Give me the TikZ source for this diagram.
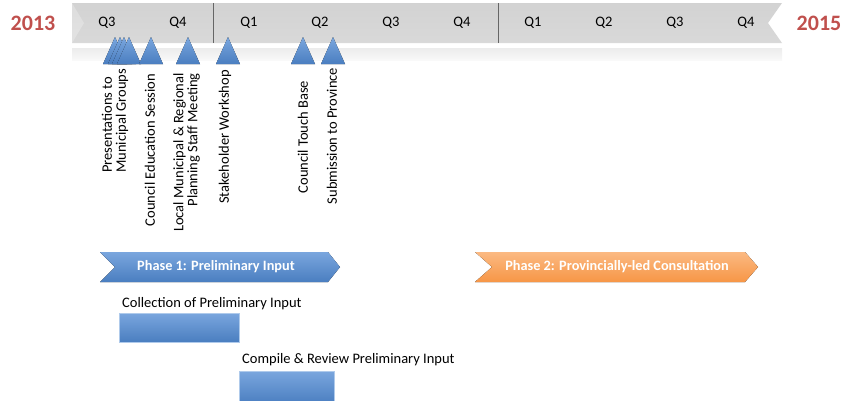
\documentclass[tikz,border=0pt]{standalone}
\usepackage{fontspec}
\setmainfont{Carlito}
\definecolor{yearred}{HTML}{C0504D}
\definecolor{blueTop}{HTML}{7AA6DE}
\definecolor{blueBot}{HTML}{4A7EC0}
\definecolor{orangeTop}{HTML}{FBB982}
\definecolor{orangeBot}{HTML}{F79646}
\tikzset{
  year/.style={font=\fontsize{22}{24}\selectfont\bfseries, text=yearred},
  quarter/.style={font=\fontsize{14.5}{15}\selectfont},
  event/.style={rotate=90, inner sep=0pt, font=\fontsize{14.5}{14}\selectfont},
  milestone/.style={top color=blueTop, bottom color=blueBot},
  phasetext/.style={text=white, font=\fontsize{14.3}{15}\selectfont\bfseries},
  tasktext/.style={anchor=west, inner sep=0pt, font=\fontsize{14.5}{15}\selectfont},
  taskbar/.style={top color=blueTop, bottom color=blueBot, draw=blueTop!60!white, line width=0.4pt}
}
\begin{document}
\begin{tikzpicture}[x=1pt,y=-1pt]
	\useasboundingbox (0,0) rectangle (847,400);
	\clip (0,0) rectangle (847,400);
	% time bar
	\shade [top color=gray!35, middle color=gray!3, bottom color=gray!30] (72,3) -- (782,3) -- (768,23) -- (782,43) -- (72,43) -- cycle;
	\fill [white,opacity=0.25] (72,3) -- (84,23) -- (72,43) -- cycle;
	\shade [top color=gray!15, bottom color=gray!5] (72,48) rectangle (782,60);
	\draw [gray!80!black] (213,3) -- (213,43) (498,3) -- (498,43);
	\node [year] (y2013) at (33,23) {2013};
	\node [year] (y2015) at (819,23) {2015};
	\foreach \q [count=\i] in {Q3,Q4,Q1,Q2,Q3,Q4,Q1,Q2,Q3,Q4}
		\node [quarter] (q\i) at ({36+71*\i},23) {\q};
	% milestones
	\foreach \x in {115,120,124,129,151,188,228,303,333}
		\fill [milestone] ({\x-12},64) -- (\x,37) -- ({\x+12},64) -- cycle;
	\node [event, anchor=west, align=left] (pres) at (115,173) {Presentations to\\Municipal Groups};
	\node [event] (ces) at (150,150) {Council Education Session};
	\node [event, anchor=east, align=right] (lmr) at (186.5,73) {Local Municipal \& Regional\\Planning Staff Meeting};
	\node [event] (stake) at (225,137) {Stakeholder Workshop};
	\node [event] (ctb) at (303,137) {Council Touch Base};
	\node [event] (sub) at (332,136) {Submission to Province};
	% phases
	\fill [top color=blueTop, bottom color=blueBot] (100,252) -- (328,252) -- (340,267) -- (328,282) -- (100,282) -- (115,267) -- cycle;
	\node [phasetext] (ph1) at (216,267) {Phase 1: Preliminary Input};
	\fill [top color=orangeTop, bottom color=orangeBot] (475,252) -- (745,252) -- (758,267) -- (745,282) -- (475,282) -- (492,267) -- cycle;
	\node [phasetext] (ph2) at (617,267) {Phase 2: Provincially-led Consultation};
	% tasks
	\node [tasktext] (collect) at (122,304) {Collection of Preliminary Input};
	\draw [taskbar] (119,313) rectangle (239,342);
	\node [tasktext] (compile) at (242,360) {Compile \& Review Preliminary Input};
	\draw [taskbar] (239,371) rectangle (334,404);
\end{tikzpicture}
\end{document}
